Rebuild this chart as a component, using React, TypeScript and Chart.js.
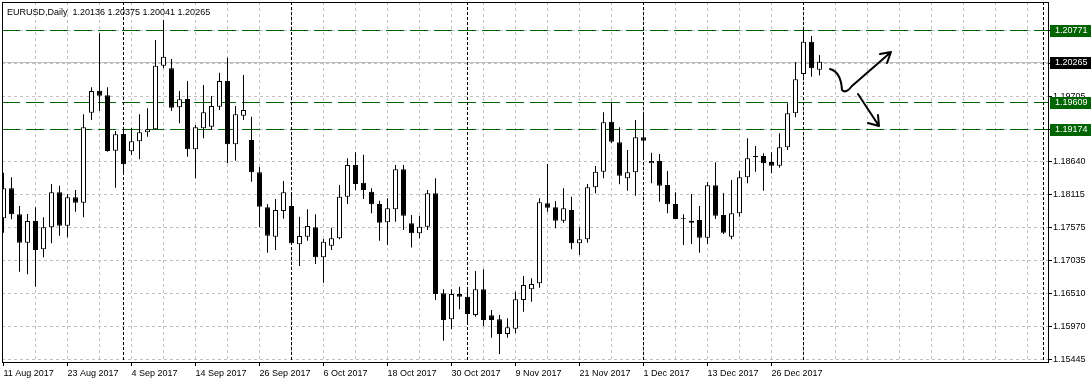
import React, { useEffect, useRef } from 'react';
import { Chart, registerables } from 'chart.js';

Chart.register(...registerables);

// ---- Data (EURUSD daily, 11 Aug 2017 .. 4 Jan 2018) ----
const opens = [
  1.17726, 1.18213, 1.17791, 1.17331, 1.17683, 1.17224, 1.17581, 1.18148, 1.17606, 1.18067,
  1.17979, 1.19438, 1.19795, 1.19720, 1.18822, 1.19093, 1.18812, 1.18975, 1.19120, 1.19169,
  1.20200, 1.20158, 1.19526, 1.19660, 1.18845, 1.19185, 1.19211, 1.19535, 1.19952, 1.18926,
  1.19390, 1.18996, 1.18472, 1.17905, 1.17428, 1.17845, 1.17926, 1.17305, 1.17428, 1.17581,
  1.17094, 1.17282, 1.17402, 1.18077, 1.18590, 1.18303, 1.18158, 1.17958, 1.17662, 1.17872,
  1.18521, 1.17645, 1.17483, 1.17590, 1.18132, 1.16511, 1.16089, 1.16499, 1.16456, 1.16159,
  1.16575, 1.16154, 1.16089, 1.15851, 1.15937, 1.16402, 1.16575, 1.16673, 1.17970, 1.17905,
  1.17687, 1.17861, 1.17321, 1.17386, 1.18229, 1.18482, 1.19292, 1.18958, 1.18375, 1.18472,
  1.19039, 1.18618, 1.18655, 1.18266, 1.17958, 1.17726, 1.17687, 1.17699, 1.17412, 1.18261,
  1.17780, 1.17428, 1.17807, 1.18391, 1.18736, 1.18736, 1.18639, 1.18579, 1.18877, 1.19428,
  1.20066, 1.20589, 1.20136,
];
const highs = [
  1.18466, 1.18391, 1.17926, 1.17796, 1.17905, 1.17743, 1.18282, 1.18255, 1.18120, 1.18185,
  1.19412, 1.19850, 1.20725, 1.19850, 1.19142, 1.19190, 1.19195, 1.19412, 1.19510, 1.20617,
  1.20941, 1.20309, 1.19790, 1.19952, 1.19239, 1.19887, 1.19709, 1.20087, 1.20330, 1.19547,
  1.20049, 1.19373, 1.18558, 1.17958, 1.18039, 1.18331, 1.18148, 1.17752, 1.17872, 1.17791,
  1.17391, 1.17574, 1.18266, 1.18699, 1.18796, 1.18757, 1.18213, 1.18012, 1.18051, 1.18590,
  1.18590, 1.17780, 1.17769, 1.18185, 1.18375, 1.16575, 1.16575, 1.16618, 1.16575, 1.16872,
  1.16900, 1.16240, 1.16159, 1.16105, 1.16537, 1.16791, 1.16754, 1.18051, 1.18607, 1.18007,
  1.18213, 1.18077, 1.17581, 1.18282, 1.18574, 1.19445, 1.19616, 1.19202, 1.18834, 1.19320,
  1.19412, 1.18790, 1.18769, 1.18493, 1.18148, 1.17791, 1.18120, 1.17926, 1.18315, 1.18634,
  1.18132, 1.18347, 1.18493, 1.19023, 1.18898, 1.18780, 1.18796, 1.19104, 1.19591, 1.20255,
  1.20771, 1.20681, 1.20375,
];
const lows = [
  1.17493, 1.17710, 1.16861, 1.16819, 1.16618, 1.17094, 1.17321, 1.17444, 1.17418, 1.17833,
  1.17743, 1.19320, 1.19466, 1.18806, 1.18222, 1.18472, 1.18752, 1.18683, 1.19049, 1.19158,
  1.20158, 1.19466, 1.19266, 1.18725, 1.18375, 1.19023, 1.19158, 1.19482, 1.18618, 1.18660,
  1.19320, 1.18320, 1.17581, 1.17169, 1.17213, 1.17720, 1.17294, 1.16953, 1.17363, 1.16986,
  1.16682, 1.17213, 1.17386, 1.17958, 1.18185, 1.18039, 1.17807, 1.17363, 1.17294, 1.17671,
  1.17537, 1.17253, 1.17402, 1.17537, 1.16402, 1.15742, 1.15927, 1.16251, 1.16034, 1.16131,
  1.15981, 1.15791, 1.15527, 1.15791, 1.15862, 1.16212, 1.16374, 1.16601, 1.17833, 1.17564,
  1.17655, 1.17224, 1.17131, 1.17331, 1.18132, 1.18375, 1.18942, 1.18278, 1.18174, 1.18093,
  1.18720, 1.18294, 1.17995, 1.17807, 1.17715, 1.17294, 1.17310, 1.17169, 1.17310, 1.17715,
  1.17472, 1.17386, 1.17752, 1.18294, 1.18482, 1.18174, 1.18456, 1.18547, 1.18834, 1.19364,
  1.20022, 1.20022, 1.20041,
];
const closes = [
  1.18213, 1.17791, 1.17331, 1.17683, 1.17213, 1.17581, 1.18148, 1.17606, 1.18067, 1.17979,
  1.19202, 1.19790, 1.19714, 1.18817, 1.19088, 1.18602, 1.18975, 1.19120, 1.19169, 1.20200,
  1.20346, 1.19519, 1.19655, 1.18845, 1.19202, 1.19445, 1.19547, 1.19952, 1.18926, 1.19412,
  1.19482, 1.18472, 1.17914, 1.17444, 1.17861, 1.18148, 1.17321, 1.17439, 1.17602, 1.17094,
  1.17347, 1.17402, 1.18077, 1.18590, 1.18282, 1.18185, 1.17953, 1.17655, 1.17889, 1.18521,
  1.17769, 1.17483, 1.17590, 1.18132, 1.16499, 1.16078, 1.16499, 1.16456, 1.16175, 1.16575,
  1.16078, 1.16078, 1.15851, 1.15960, 1.16413, 1.16645, 1.16661, 1.17986, 1.17898, 1.17687,
  1.17889, 1.17321, 1.17386, 1.18229, 1.18482, 1.19283, 1.18968, 1.18417, 1.18472, 1.19039,
  1.18984, 1.18655, 1.18255, 1.17953, 1.17715, 1.17715, 1.17655, 1.17412, 1.18261, 1.17769,
  1.17493, 1.17807, 1.18391, 1.18699, 1.18715, 1.18618, 1.18579, 1.18877, 1.19428, 1.19980,
  1.20589, 1.20158, 1.20265,
];

const symbolTitle = 'EURUSD,Daily';
const xLabels = [
  '11 Aug 2017', '23 Aug 2017', '4 Sep 2017', '14 Sep 2017', '26 Sep 2017', '6 Oct 2017',
  '18 Oct 2017', '30 Oct 2017', '9 Nov 2017', '21 Nov 2017', '1 Dec 2017', '13 Dec 2017', '26 Dec 2017',
];
const xLabelEvery = 8; // bars between date labels
const xGridEvery = 4; // bars between vertical grid lines
const xGridLast = 128;
const yTickValues = [1.15445, 1.1597, 1.1651, 1.17035, 1.17575, 1.18115, 1.1864, 1.1917, 1.19705, 1.2024, 1.2077];
const yTickLabels = ['1.15445', '1.15970', '1.16510', '1.17035', '1.17575', '1.18115', '1.18640', '1.19170', '1.19705', '1.20240', '1.20770'];
const yRange = [1.15397, 1.21233];
const xRange = [-0.1875, 130.5625];
const monthSeparatorBars = [15, 36, 58, 80, 100, 130];
const levelLines = [1.20771, 1.19609, 1.19174];
// hand-drawn arrows (bar index, price)
const arrowUpPath = [[103.31, 1.20147], [104.69, 1.20098], [104.81, 1.19806], [105.31, 1.19741], [106.06, 1.19871], [110.94, 1.20422]];
const arrowUpHead = [[109.56, 1.2039], [110.44, 1.20244]];
const arrowDownPath = [[106.81, 1.19741], [109.44, 1.19223]];
const arrowDownHead = [[108.06, 1.19271], [109.31, 1.19401]];

const FONT = "'Liberation Sans', Arial, sans-serif";

const mt4Plugin = {
  id: 'mt4',
  beforeDatasetsDraw(chart: any) {
    const { ctx, chartArea: a, scales } = chart;
    const x = scales.x, y = scales.y;
    ctx.save();
    ctx.beginPath();
    ctx.rect(a.left, a.top, a.right - a.left, a.bottom - a.top);
    ctx.clip();
    ctx.lineWidth = 1;
    // bid line
    const bid = closes[closes.length - 1];
    const by = Math.round(y.getPixelForValue(bid)) + 0.5;
    ctx.strokeStyle = '#c0c0c0';
    ctx.setLineDash([]);
    ctx.beginPath();
    ctx.moveTo(a.left, by);
    ctx.lineTo(a.right, by);
    ctx.stroke();
    // level lines
    ctx.strokeStyle = '#006400';
    ctx.setLineDash([18, 6]);
    for (const lv of levelLines) {
      const py = Math.round(y.getPixelForValue(lv)) + 0.5;
      ctx.beginPath();
      ctx.moveTo(a.left, py);
      ctx.lineTo(a.right, py);
      ctx.stroke();
    }
    // period separators
    ctx.strokeStyle = '#000';
    ctx.setLineDash([3, 2]);
    for (const b of monthSeparatorBars) {
      const px = Math.floor(x.getPixelForValue(b)) + 0.5;
      ctx.beginPath();
      ctx.moveTo(px, a.top);
      ctx.lineTo(px, a.bottom);
      ctx.stroke();
    }
    ctx.restore();
  },
  afterDraw(chart: any) {
    const { ctx, chartArea: a, scales, width } = chart;
    const x = scales.x, y = scales.y;
    ctx.save();
    // frame
    ctx.strokeStyle = '#000';
    ctx.lineWidth = 1;
    ctx.setLineDash([]);
    ctx.strokeRect(a.left + 0.5, a.top + 0.5, a.right - a.left, a.bottom - a.top);
    // price tags
    ctx.font = `9px ${FONT}`;
    ctx.textBaseline = 'middle';
    ctx.textAlign = 'left';
    const tag = (v: number, bg: string) => {
      const py = Math.round(y.getPixelForValue(v));
      ctx.fillStyle = bg;
      ctx.fillRect(a.right + 2, py - 5, width - a.right - 2, 12);
      ctx.fillStyle = '#fff';
      ctx.fillText(v.toFixed(5), a.right + 7, py + 1);
    };
    for (const lv of levelLines) tag(lv, '#006400');
    tag(closes[closes.length - 1], '#000');
    // title
    const n = closes.length - 1;
    ctx.fillStyle = '#000';
    ctx.textBaseline = 'alphabetic';
    ctx.fillText(
      `${symbolTitle}  ${opens[n].toFixed(5)} ${highs[n].toFixed(5)} ${lows[n].toFixed(5)} ${closes[n].toFixed(5)}`,
      7, 14.5
    );
    // arrows
    const P = (p: number[]) => [x.getPixelForValue(p[0]), y.getPixelForValue(p[1])];
    ctx.strokeStyle = '#000';
    ctx.lineWidth = 2;
    ctx.lineCap = 'round';
    ctx.lineJoin = 'round';
    const u = arrowUpPath.map(P);
    ctx.beginPath();
    ctx.moveTo(u[0][0], u[0][1]);
    ctx.quadraticCurveTo(u[1][0], u[1][1], u[2][0], u[2][1]);
    ctx.quadraticCurveTo(u[3][0], u[3][1], u[4][0], u[4][1]);
    ctx.lineTo(u[5][0], u[5][1]);
    for (const h of arrowUpHead.map(P)) {
      ctx.moveTo(u[5][0], u[5][1]);
      ctx.lineTo(h[0], h[1]);
    }
    ctx.stroke();
    const d = arrowDownPath.map(P);
    ctx.beginPath();
    ctx.moveTo(d[0][0], d[0][1]);
    ctx.lineTo(d[1][0], d[1][1]);
    for (const h of arrowDownHead.map(P)) {
      ctx.moveTo(d[1][0], d[1][1]);
      ctx.lineTo(h[0], h[1]);
    }
    ctx.stroke();
    ctx.restore();
  },
};

export default function App() {
  const ref = useRef<HTMLCanvasElement | null>(null);
  useEffect(() => {
    if (!ref.current) return;
    const idx = opens.map((_, i) => i);
    const wicks = idx.map((i) => ({ x: i, y: [lows[i], highs[i]] }));
    const bodies = idx.map((i) => ({ x: i, y: [Math.min(opens[i], closes[i]), Math.max(opens[i], closes[i])] }));
    const bodyColors = idx.map((i) => (closes[i] >= opens[i] ? '#ffffff' : '#000000'));
    const xTickValues: number[] = [];
    for (let v = 0; v <= xGridLast; v += xGridEvery) xTickValues.push(v);
    const isLabelTick = (v: number) => v % xLabelEvery === 0 && v / xLabelEvery < xLabels.length;

    const chart = new Chart(ref.current, {
      type: 'bar',
      data: {
        datasets: [
          {
            label: 'body',
            data: bodies as any,
            backgroundColor: bodyColors,
            borderColor: '#000',
            borderWidth: 1,
            borderSkipped: false,
            barThickness: 5,
            grouped: false,
            inflateAmount: 0,
            order: 0,
          } as any,
          {
            label: 'wick',
            data: wicks as any,
            backgroundColor: '#000',
            borderWidth: 0,
            barThickness: 1,
            grouped: false,
            inflateAmount: 0,
            order: 1,
          } as any,
        ],
      },
      options: {
        responsive: false,
        animation: false,
        events: [],
        layout: { padding: { left: 2, top: 2, right: 0, bottom: 0 } },
        plugins: { legend: { display: false }, tooltip: { enabled: false }, title: { display: false } },
        scales: {
          x: {
            type: 'linear',
            position: 'bottom',
            min: xRange[0],
            max: xRange[1],
            offset: false,
            afterBuildTicks: (s: any) => {
              s.ticks = xTickValues.map((v) => ({ value: v }));
            },
            afterFit: (s: any) => {
              s.height = 21;
              s.paddingLeft = 0;
              s.paddingRight = 0;
            },
            grid: {
              offset: false,
              color: (c: any) => (c.tick && c.tick.value === 0 ? 'rgba(0,0,0,0)' : '#c0c0c0'),
              lineWidth: 1,
              tickLength: 4,
              tickWidth: 1,
              tickColor: (c: any) => (c.tick && isLabelTick(c.tick.value) ? '#000' : 'rgba(0,0,0,0)'),
            },
            border: { display: false, dash: [3, 3] },
            ticks: {
              autoSkip: false,
              maxRotation: 0,
              minRotation: 0,
              align: 'start',
              padding: 2,
              color: '#000',
              font: { family: FONT, size: 9 },
              callback: (v: any) => (isLabelTick(Number(v)) ? xLabels[Number(v) / xLabelEvery] : ''),
            },
          } as any,
          y: {
            type: 'linear',
            position: 'right',
            min: yRange[0],
            max: yRange[1],
            afterBuildTicks: (s: any) => {
              s.ticks = yTickValues.map((v) => ({ value: v }));
            },
            afterFit: (s: any) => {
              s.width = 43;
              s.paddingTop = 0;
              s.paddingBottom = 0;
            },
            grid: { color: '#c0c0c0', lineWidth: 1, tickLength: 4, tickColor: '#000' },
            border: { display: false, dash: [3, 3] },
            ticks: {
              autoSkip: false,
              padding: 1,
              color: '#000',
              font: { family: FONT, size: 9 },
              callback: (_v: any, i: number) => yTickLabels[i],
            },
          } as any,
        },
      },
      plugins: [mt4Plugin],
    });
    return () => chart.destroy();
  }, []);

  return (
    <div style={{ position: 'fixed', left: 0, top: 0, width: 1091, height: 383, background: '#fff' }}>
      <canvas ref={ref} width={1091} height={383} style={{ display: 'block', width: 1091, height: 383 }} />
    </div>
  );
}
